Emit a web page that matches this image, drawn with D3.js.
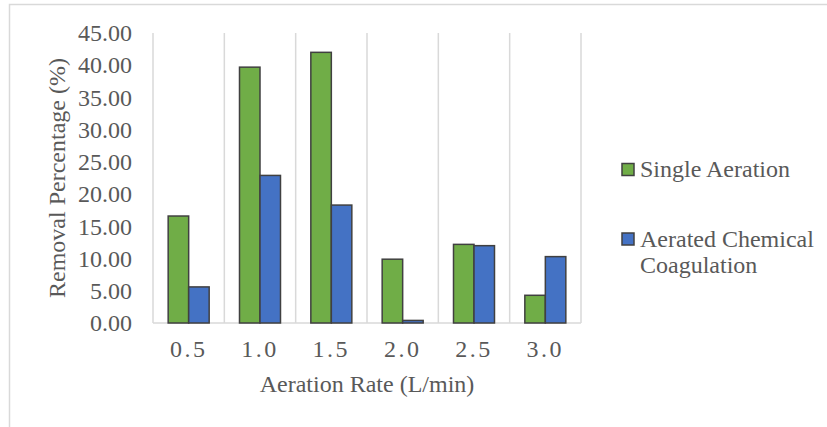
<!DOCTYPE html>
<html>
<head>
<meta charset="utf-8">
<script src="https://cdn.jsdelivr.net/npm/d3@7"></script>
<style>
  body { margin: 0; background: #fff; }
</style>
</head>
<body>
<svg id="chart" width="827" height="427"></svg>
<script>
const rates = ["0.5", "1.0", "1.5", "2.0", "2.5", "3.0"];
const singleAeration = [16.6, 39.7, 42.0, 9.9, 12.2, 4.3];
const aeratedCoagulation = [5.6, 22.9, 18.3, 0.4, 12.0, 10.3];
const yTicks = [0, 5, 10, 15, 20, 25, 30, 35, 40, 45];
const seriesNames = ["Single Aeration", "Aerated Chemical Coagulation"];
const colors = ["#70ad47", "#4472c4"];

const FONT = "Liberation Serif";
const FSIZE = 24;

const svg = d3.select('#chart');
const margin = {left: 153, right: 246, top: 33, bottom: 104};
const width = 827 - margin.left - margin.right;
const height = 427 - margin.top - margin.bottom;

// outer frame
svg.append('path')
  .attr('d', 'M9.5,427 V4.5 H827')
  .attr('fill', 'none')
  .attr('stroke', '#d9d9d9')
  .attr('stroke-width', 1.5);

const g = svg.append('g').attr('transform', `translate(${margin.left},${margin.top})`);

const x = d3.scaleBand().domain(rates).range([0, width]).paddingInner(0).paddingOuter(0);
const xs = d3.scaleBand().domain([0, 1]).range([0, x.bandwidth()]).paddingInner(0).paddingOuter(0.74);
const y = d3.scaleLinear().domain([0, 45]).range([height, 0]);

// vertical gridlines at category boundaries
g.selectAll('.vgrid').data(d3.range(rates.length + 1))
  .enter().append('line')
  .attr('x1', i => i * x.step()).attr('x2', i => i * x.step())
  .attr('y1', 0).attr('y2', height)
  .attr('stroke', '#d9d9d9').attr('stroke-width', 1.5);

// baseline
g.append('line')
  .attr('x1', 0).attr('x2', width)
  .attr('y1', y(0)).attr('y2', y(0))
  .attr('stroke', '#d9d9d9').attr('stroke-width', 1.5);

const rows = rates.map((r, i) => ({rate: r, vals: [singleAeration[i], aeratedCoagulation[i]]}));

const groups = g.selectAll('.grp').data(rows)
  .enter().append('g')
  .attr('transform', d => `translate(${x(d.rate)},0)`);

groups.selectAll('rect').data(d => d.vals.map((v, k) => ({v, k})))
  .enter().append('rect')
  .attr('x', d => xs(d.k))
  .attr('width', xs.bandwidth())
  .attr('y', d => y(d.v))
  .attr('height', d => y(0) - y(d.v))
  .attr('fill', d => colors[d.k])
  .attr('stroke', '#404040')
  .attr('stroke-width', 1.5);

// y axis
const yAxis = d3.axisLeft(y).tickValues(yTicks).tickFormat(d3.format('.2f')).tickSize(0).tickPadding(21);
g.append('g').call(yAxis)
  .call(a => a.select('.domain').remove())
  .selectAll('text')
  .attr('font-family', FONT)
  .attr('font-size', FSIZE)
  .attr('fill', '#595959')
  .attr('dy', '0.32em');

// x axis
const xAxis = d3.axisBottom(x).tickSize(0).tickPadding(17);
g.append('g').attr('transform', `translate(0,${height})`).call(xAxis)
  .call(a => a.select('.domain').remove())
  .selectAll('text')
  .attr('font-family', FONT)
  .attr('font-size', FSIZE)
  .attr('letter-spacing', 2.5)
  .attr('fill', '#595959');

// axis titles
svg.append('text')
  .attr('x', margin.left + width / 2).attr('y', 392)
  .attr('text-anchor', 'middle')
  .attr('font-family', FONT).attr('font-size', FSIZE).attr('fill', '#595959')
  .text('Aeration Rate (L/min)');

svg.append('text')
  .attr('transform', `translate(65,${margin.top + height / 2}) rotate(-90)`)
  .attr('text-anchor', 'middle')
  .attr('font-family', FONT).attr('font-size', FSIZE).attr('fill', '#595959')
  .text('Removal Percentage (%)');

// legend
const legend = svg.append('g').attr('transform', 'translate(622,0)');
const legendRows = [{lines: ["Single Aeration"], y: 169.5}, {lines: ["Aerated Chemical", "Coagulation"], y: 239}];
legendRows.forEach((d, i) => {
  legend.append('rect')
    .attr('x', 0).attr('y', d.y - 6).attr('width', 12).attr('height', 12)
    .attr('fill', colors[i]).attr('stroke', '#404040').attr('stroke-width', 1.5);
  d.lines.forEach((t, j) => {
    legend.append('text')
      .attr('x', 18).attr('y', d.y + 7.5 + j * 26.6)
      .attr('font-family', FONT).attr('font-size', FSIZE).attr('fill', '#595959')
      .text(t);
  });
});
</script>
</body>
</html>
